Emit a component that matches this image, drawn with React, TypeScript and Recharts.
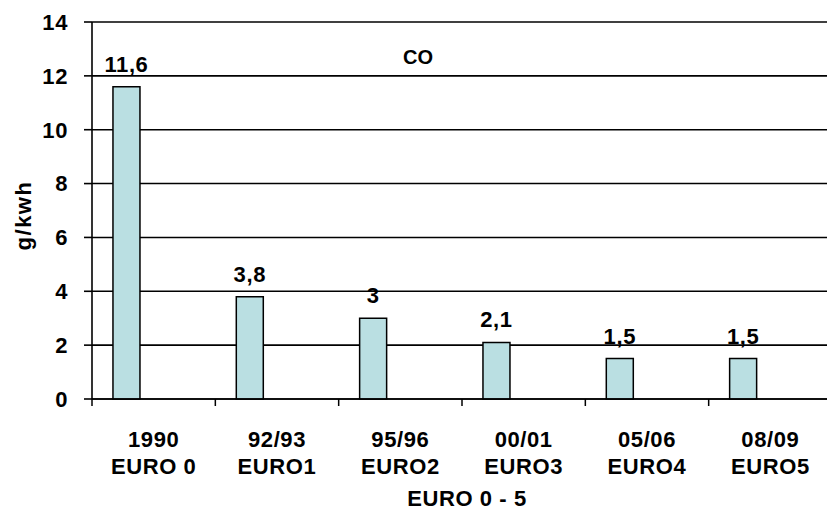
import { BarChart, Bar, XAxis, YAxis, CartesianGrid, LabelList } from 'recharts';

// CO limit values per emission stage (g/kWh)
const years = ['1990', '92/93', '95/96', '00/01', '05/06', '08/09'];
const stages = ['EURO 0', 'EURO1', 'EURO2', 'EURO3', 'EURO4', 'EURO5'];
const coValues = [11.6, 3.8, 3, 2.1, 1.5, 1.5];
const yTicks = [0, 2, 4, 6, 8, 10, 12, 14];

const data = years.map((year, i) => ({ year, stage: stages[i], co: coValues[i] }));

const CHART_W = 850;
const CHART_H = 511;
const Y_AXIS_W = 92;
const MARGIN = { top: 22, right: 18, left: 0, bottom: 0 };
const BAND = (CHART_W - MARGIN.left - MARGIN.right - Y_AXIS_W) / years.length;

const FONT = '"Liberation Sans", Arial, sans-serif';
const textStyle = { fontFamily: FONT, fontWeight: 700, fontSize: 22, fill: '#000', letterSpacing: 0.6 };

const formatValue = (v: any) => String(v).replace('.', ',');

// two-line category label plus a tick mark on the left edge of each band
const CategoryTick = (props: any) => {
  const { x, y, index } = props;
  const edge = x - BAND / 2;
  return (
    <g>
      <line x1={edge} x2={edge} y1={y} y2={y + 7} stroke="#000" strokeWidth={1.5} />
      <text x={x} y={y + 48} textAnchor="middle" style={textStyle}>
        {years[index]}
      </text>
      <text x={x} y={y + 75} textAnchor="middle" style={textStyle}>
        {stages[index]}
      </text>
    </g>
  );
};

export default function App() {
  return (
    <div
      style={{
        position: 'absolute',
        left: 0,
        top: 0,
        width: 827,
        height: 511,
        overflow: 'hidden',
        background: '#fff',
      }}
    >
      <BarChart
        width={CHART_W}
        height={CHART_H}
        data={data}
        margin={MARGIN}
        barCategoryGap="17%"
        barGap={0}
      >
        <CartesianGrid vertical={false} stroke="#000" strokeWidth={1.6} />
        <XAxis
          dataKey="year"
          height={112}
          interval={0}
          tickSize={0}
          tickMargin={0}
          tick={<CategoryTick />}
          axisLine={{ stroke: '#000', strokeWidth: 1.6 }}
          label={{ value: 'EURO 0 - 5', position: 'insideBottom', offset: 5, dx: 5, style: textStyle }}
        />
        <YAxis
          width={Y_AXIS_W}
          domain={[0, 14]}
          ticks={yTicks}
          interval={0}
          tickSize={8}
          tickMargin={16}
          tick={textStyle}
          axisLine={{ stroke: '#000', strokeWidth: 1.6 }}
          tickLine={{ stroke: '#000', strokeWidth: 1.6 }}
          label={{
            value: 'g/kwh',
            angle: -90,
            position: 'center',
            dx: -23,
            dy: 5,
            style: { ...textStyle, letterSpacing: 1.5 },
          }}
        />
        <Bar dataKey="co" fill="#BADFE2" stroke="#000" strokeWidth={1.5} isAnimationActive={false}>
          <LabelList dataKey="co" position="top" offset={15} formatter={formatValue} style={textStyle} />
        </Bar>
        {/* two empty slots keep the bars at the left of each band */}
        <Bar dataKey="slotB" fill="none" isAnimationActive={false} />
        <Bar dataKey="slotC" fill="none" isAnimationActive={false} />
      </BarChart>
      <div
        style={{
          position: 'absolute',
          left: 418,
          top: 57,
          transform: 'translate(-50%, -50%)',
          fontFamily: FONT,
          fontWeight: 700,
          fontSize: 20,
          lineHeight: 1,
        }}
      >
        CO
      </div>
    </div>
  );
}
